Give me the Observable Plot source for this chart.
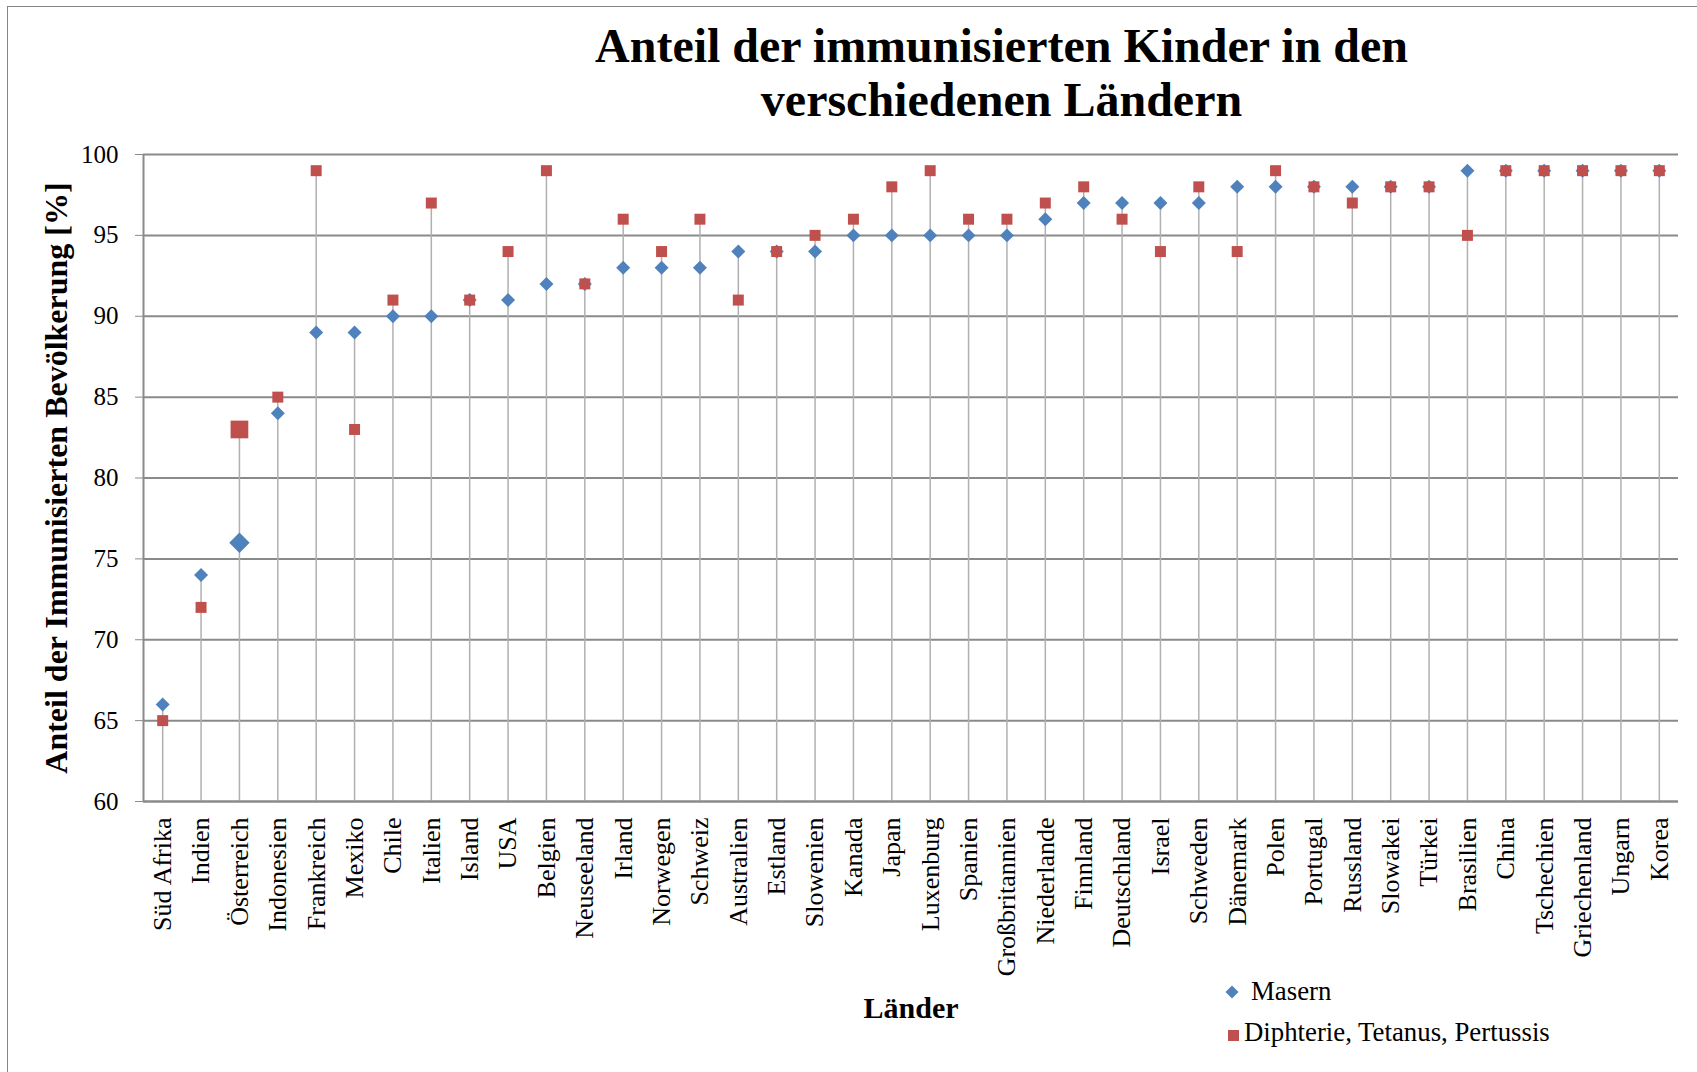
<!DOCTYPE html>
<html>
<head>
<meta charset="utf-8">
<script src="https://cdn.jsdelivr.net/npm/d3@7"></script>
<script src="https://cdn.jsdelivr.net/npm/@observablehq/plot@0.6"></script>
<style>
  html, body { margin: 0; padding: 0; background: #fff; }
  #wrap { position: relative; width: 1697px; height: 1072px; overflow: hidden; background: #fff;
          font-family: "Liberation Serif", "Times New Roman", serif; color: #000; }
  #border { position: absolute; left: 7px; top: 6px; width: 1720px; height: 1100px;
            border-left: 1.5px solid #858585; border-top: 1.5px solid #858585; pointer-events: none; }
  #title { box-sizing: border-box; width: 1697px; height: 127px; padding-top: 19px; padding-left: 306px;
           text-align: center; font-weight: bold; font-size: 48px; line-height: 54px; }
  #chart svg { display: block; }
  .leg { position: absolute; font-size: 26.8px; line-height: 26px; white-space: nowrap; }
  .sw { position: absolute; }
</style>
</head>
<body>
<div id="wrap">
  <div id="border"></div>
  <div id="title">Anteil der immunisierten Kinder in den<br>verschiedenen Ländern</div>
  <div id="chart"></div>
  <div id="legend"></div>
</div>
<script>
const countries = ["Süd Afrika", "Indien", "Österreich", "Indonesien", "Frankreich", "Mexiko", "Chile", "Italien",
  "Island", "USA", "Belgien", "Neuseeland", "Irland", "Norwegen", "Schweiz", "Australien", "Estland", "Slowenien",
  "Kanada", "Japan", "Luxenburg", "Spanien", "Großbritannien", "Niederlande", "Finnland", "Deutschland", "Israel",
  "Schweden", "Dänemark", "Polen", "Portugal", "Russland", "Slowakei", "Türkei", "Brasilien", "China", "Tschechien",
  "Griechenland", "Ungarn", "Korea"];
const masern = [66, 74, 76, 84, 89, 89, 90, 90, 91, 91, 92, 92, 93, 93, 93, 94, 94, 94, 95, 95,
  95, 95, 95, 96, 97, 97, 97, 97, 98, 98, 98, 98, 98, 98, 99, 99, 99, 99, 99, 99];
const dtp = [65, 72, 83, 85, 99, 83, 91, 97, 91, 94, 99, 92, 96, 94, 96, 91, 94, 95, 96, 98,
  99, 96, 96, 97, 98, 96, 94, 98, 94, 99, 98, 97, 98, 98, 95, 99, 99, 99, 99, 99];
const yTicks = [60, 65, 70, 75, 80, 85, 90, 95, 100];
const seriesNames = ["Masern", "Diphterie, Tetanus, Pertussis"];
const yTitle = "Anteil der Immunisierten Bevölkerung [%]";
const xTitle = "Länder";
const highlighted = "Österreich";

const blue = "#4f81bd", red = "#c0504d", gridColor = "#8a8a8a";

const rows = countries.map((c, i) => ({i, country: c, masern: masern[i], dtp: dtp[i]}));
const normal = d => d.country !== highlighted;
const special = d => d.country === highlighted;

const chart = Plot.plot({
  width: 1697,
  height: 945,
  marginTop: 27,
  marginBottom: 271,
  marginLeft: 143,
  marginRight: 19,
  style: {fontFamily: "'Liberation Serif', 'Times New Roman', serif", background: "transparent", color: "#000", overflow: "visible"},
  x: {type: "linear", domain: [-0.5, countries.length - 0.5], axis: null},
  y: {domain: [yTicks[0], yTicks[yTicks.length - 1]], axis: null},
  marks: [
    Plot.gridY(yTicks, {stroke: gridColor, strokeOpacity: 1, strokeWidth: 2}),
    Plot.ruleX(rows, {x: "i", y1: yTicks[0], y2: d => Math.max(d.masern, d.dtp), stroke: "#b0b0b0", strokeWidth: 1.5}),
    Plot.ruleX([-0.5], {stroke: gridColor, strokeWidth: 2}),
    Plot.ruleY([yTicks[0]], {stroke: gridColor, strokeWidth: 2}),
    Plot.axisY({ticks: yTicks, tickSize: 8, tickPadding: 17, fontSize: 25, stroke: gridColor, fill: "#000", label: null, tickFormat: d => String(d)}),
    Plot.axisX({ticks: d3.range(countries.length), tickFormat: i => countries[i], tickRotate: -90, tickSize: 0, tickPadding: 16, fontSize: 26, fill: "#000", label: null}),
    Plot.text([yTitle], {frameAnchor: "left", rotate: -90, dx: -87, textAnchor: "middle", lineAnchor: "middle", fontSize: 32, fontWeight: "bold", fill: "#000"}),
    Plot.text([xTitle], {frameAnchor: "bottom", dy: 207, textAnchor: "middle", lineAnchor: "middle", fontSize: 30, fontWeight: "bold", fill: "#000"}),
    Plot.dot(rows, {filter: normal, x: "i", y: "masern", symbol: "diamond2", fill: blue, stroke: null, r: 6.3}),
    Plot.dot(rows, {filter: special, x: "i", y: "masern", symbol: "diamond2", fill: blue, stroke: null, r: 9.2}),
    Plot.dot(rows, {filter: normal, x: "i", y: "dtp", symbol: "square", fill: red, stroke: null, r: 6.2}),
    Plot.dot(rows, {filter: special, x: "i", y: "dtp", symbol: "square", fill: red, stroke: null, r: 10})
  ]
});
document.getElementById("chart").appendChild(chart);

// Legend
const legend = document.getElementById("legend");
const legendItems = [
  {name: seriesNames[0], swatch: `<svg width="14" height="14" viewBox="0 0 14 14"><polygon points="7,0.5 13.5,7 7,13.5 0.5,7" fill="${blue}"/></svg>`, sx: 1225, sy: 985, tx: 1251, ty: 978},
  {name: seriesNames[1], swatch: `<svg width="11" height="11" viewBox="0 0 11 11"><rect width="11" height="11" fill="${red}"/></svg>`, sx: 1227.5, sy: 1026.5, tx: 1244, ty: 1019}
];
for (const it of legendItems) {
  const s = document.createElement("div");
  s.className = "sw"; s.style.left = it.sx + "px"; s.style.top = it.sy + "px"; s.innerHTML = it.swatch;
  legend.appendChild(s);
  const t = document.createElement("div");
  t.className = "leg"; t.style.left = it.tx + "px"; t.style.top = it.ty + "px"; t.textContent = it.name;
  legend.appendChild(t);
}
</script>
</body>
</html>
